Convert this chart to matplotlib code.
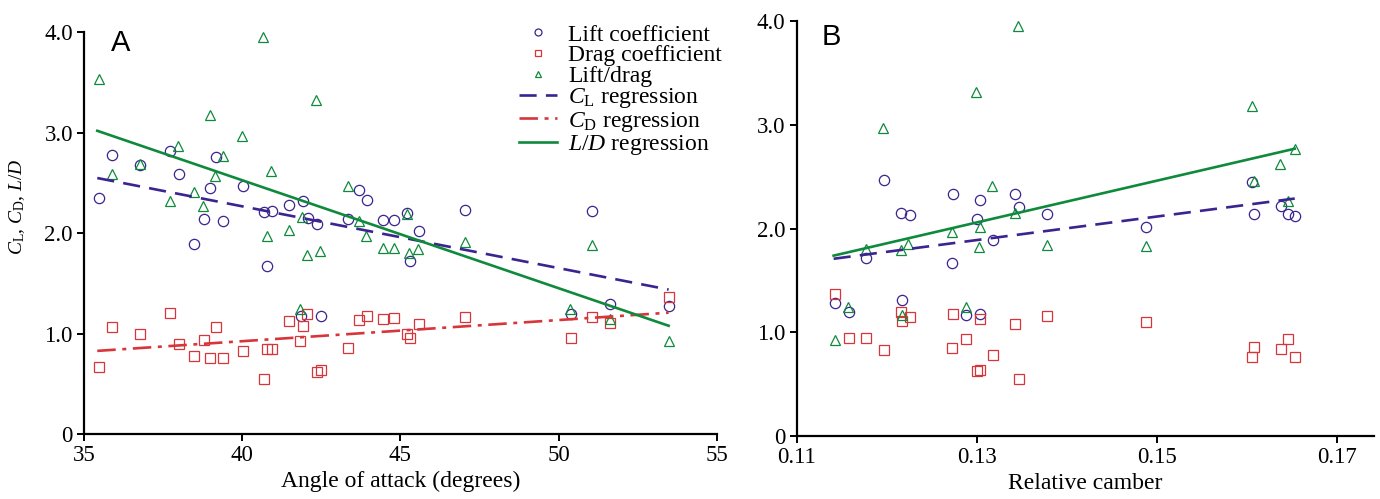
import matplotlib
matplotlib.use("Agg")
import matplotlib.pyplot as plt
from matplotlib.lines import Line2D
import numpy as np

plt.rcParams['font.family'] = ['Liberation Serif', 'DejaVu Serif']
plt.rcParams['mathtext.fontset'] = 'custom'
plt.rcParams['mathtext.rm'] = 'Liberation Serif'
plt.rcParams['mathtext.it'] = 'Liberation Serif:italic'

# ---------------- Panel A data (angle of attack) ----------------
angle_cl = [35.89, 35.48, 36.78, 37.73, 37.99, 39.16, 38.98, 40.03, 38.79, 39.40, 38.49,
            40.69, 40.95, 41.49, 40.80, 41.85, 41.91, 42.08, 42.35, 43.35, 43.69, 43.94,
            44.46, 44.79, 45.20, 45.58, 45.29, 47.05, 42.48, 51.06, 51.64, 50.38, 53.48]
lift_a = [2.78, 2.35, 2.68, 2.82, 2.59, 2.76, 2.45, 2.47, 2.14, 2.12, 1.89,
          2.21, 2.22, 2.28, 1.67, 1.18, 2.32, 2.15, 2.09, 2.14, 2.43, 2.33,
          2.13, 2.13, 2.20, 2.02, 1.72, 2.23, 1.18, 2.22, 1.30, 1.20, 1.28]

angle_cd = [35.48, 35.89, 36.78, 37.73, 37.99, 38.79, 39.16, 38.49, 38.98, 39.40, 40.03,
            40.79, 40.93, 40.69, 41.49, 41.91, 42.06, 41.83, 42.35, 42.48, 43.35, 43.69,
            43.94, 44.46, 44.79, 45.20, 45.29, 45.58, 47.05, 50.38, 51.06, 51.62, 53.48]
drag_a = [0.67, 1.07, 1.00, 1.21, 0.90, 0.94, 1.07, 0.78, 0.76, 0.76, 0.83,
          0.85, 0.85, 0.55, 1.13, 1.08, 1.20, 0.93, 0.62, 0.64, 0.86, 1.14,
          1.18, 1.15, 1.16, 1.00, 0.96, 1.10, 1.17, 0.96, 1.17, 1.11, 1.37]

angle_ld = [35.47, 40.67, 38.98, 40.01, 37.98, 36.78, 39.38, 35.88, 39.14, 40.91, 38.48,
            37.71, 38.77, 40.78, 41.48, 41.90, 41.82, 42.34, 43.33, 42.04, 42.47, 43.68,
            43.92, 44.44, 44.79, 45.20, 45.26, 45.56, 47.04, 51.06, 50.36, 51.62, 53.48]
ld_a = [3.54, 3.95, 3.18, 2.97, 2.87, 2.69, 2.77, 2.59, 2.57, 2.62, 2.41,
        2.32, 2.27, 1.97, 2.03, 2.16, 1.25, 3.33, 2.47, 1.78, 1.82, 2.12,
        1.97, 1.85, 1.85, 2.19, 1.80, 1.84, 1.91, 1.88, 1.25, 1.15, 0.93]

# regression line end points
reg_angle = [35.42, 53.48]
cl_reg_a = [2.55, 1.44]
cd_reg_a = [0.83, 1.21]
ld_reg_a = [3.02, 1.08]

# ---------------- Panel B data (relative camber) ----------------
camber_cl = [0.1197, 0.1273, 0.1304, 0.1216, 0.1226, 0.1300, 0.1318, 0.1177, 0.1272, 0.1142,
             0.1158, 0.1217, 0.1288, 0.1303, 0.1342, 0.1347, 0.1378, 0.1488, 0.1606, 0.1608,
             0.1638, 0.1646, 0.1653]
lift_b = [2.47, 2.33, 2.28, 2.15, 2.13, 2.09, 1.89, 1.72, 1.67, 1.28,
          1.20, 1.31, 1.17, 1.18, 2.33, 2.21, 2.14, 2.02, 2.45, 2.14,
          2.22, 2.14, 2.12]

camber_cd = [0.1143, 0.1158, 0.1177, 0.1197, 0.1216, 0.1217, 0.1226, 0.1272, 0.1273, 0.1288,
             0.1300, 0.1303, 0.1304, 0.1318, 0.1342, 0.1347, 0.1378, 0.1488, 0.1606, 0.1608,
             0.1638, 0.1646, 0.1653]
drag_b = [1.37, 0.95, 0.95, 0.83, 1.20, 1.11, 1.15, 0.85, 1.18, 0.94,
          0.63, 0.64, 1.13, 0.78, 1.08, 0.55, 1.16, 1.10, 0.76, 0.86,
          0.84, 0.94, 0.76]

camber_ld = [0.1299, 0.1196, 0.1317, 0.1177, 0.1216, 0.1224, 0.1272, 0.1303, 0.1302, 0.1157,
             0.1217, 0.1142, 0.1288, 0.1346, 0.1342, 0.1378, 0.1488, 0.1605, 0.1653, 0.1637,
             0.1608, 0.1646]
ld_b = [3.32, 2.97, 2.41, 1.80, 1.79, 1.85, 1.97, 2.02, 1.82, 1.25,
        1.17, 0.93, 1.25, 3.95, 2.15, 1.84, 1.83, 3.18, 2.77, 2.62,
        2.46, 2.27]

reg_camber = [0.1141, 0.1653]
cl_reg_b = [1.71, 2.29]
ld_reg_b = [1.74, 2.77]

yticks = [0, 1.0, 2.0, 3.0, 4.0]
ytick_labels = ['0', '1.0', '2.0', '3.0', '4.0']
xticks_a = [35, 40, 45, 50, 55]
xticks_b = [0.11, 0.13, 0.15, 0.17]
xtick_labels_b = ['0.11', '0.13', '0.15', '0.17']

PURPLE = '#3b2390'
RED = '#d8353a'
GREEN = '#0f8a3c'

CL_DASH = (0, (6.5, 3.5))
CD_DASH = (0, (7, 2.5, 1.5, 2.5))

fig = plt.figure(figsize=(13.8, 4.99), dpi=100)
axA = fig.add_axes([84 / 1380, 1 - 434.3 / 499, (716.7 - 84) / 1380, (434.3 - 32.3) / 499])
axB = fig.add_axes([796.7 / 1380, 1 - 436.3 / 499, (1374 - 796.7) / 1380, (436.3 - 21) / 499])

mk = dict(linestyle='none', markerfacecolor='none', markeredgewidth=0.9)


def style(ax):
    for s in ('top', 'right'):
        ax.spines[s].set_visible(False)
    for s in ('left', 'bottom'):
        ax.spines[s].set_linewidth(1.6)
    ax.tick_params(direction='out', length=5, width=1.4, labelsize=16.5, pad=3)
    ax.set_ylim(0, 4.0)
    ax.set_yticks(yticks)
    ax.set_yticklabels(ytick_labels)


# Panel A
axA.plot(angle_cl, lift_a, marker='o', markersize=7.4, markeredgecolor=PURPLE, **mk)
axA.plot(angle_cd, drag_a, marker='s', markersize=7.4, markeredgecolor=RED, **mk)
axA.plot(angle_ld, ld_a, marker='^', markersize=7.7, markeredgecolor=GREEN, **mk)
axA.plot(reg_angle, cl_reg_a, color=PURPLE, lw=1.9, linestyle=CL_DASH)
axA.plot(reg_angle, cd_reg_a, color=RED, lw=1.9, linestyle=CD_DASH)
axA.plot(reg_angle, ld_reg_a, color=GREEN, lw=1.9, linestyle='-')
style(axA)
axA.set_xlim(35, 55)
axA.set_xticks(xticks_a)
axA.set_xlabel('Angle of attack (degrees)', fontsize=17, labelpad=3)
axA.set_ylabel(r'$C_\mathrm{L}$, $C_\mathrm{D}$, $L/D$', fontsize=14)
axA.yaxis.set_label_coords(-0.09, 0.565)
axA.text(0.043, 1.008, 'A', transform=axA.transAxes, fontsize=21,
         family='Liberation Sans', va='top', ha='left')

handles = [
    Line2D([], [], marker='o', markersize=5, markeredgecolor=PURPLE, **mk),
    Line2D([], [], marker='s', markersize=5, markeredgecolor=RED, **mk),
    Line2D([], [], marker='^', markersize=5, markeredgecolor=GREEN, **mk),
    Line2D([], [], color=PURPLE, lw=1.9, linestyle=CL_DASH),
    Line2D([], [], color=RED, lw=1.9, linestyle=CD_DASH),
    Line2D([], [], color=GREEN, lw=1.9, linestyle='-'),
]
labels = ['Lift coefficient', 'Drag coefficient', 'Lift/drag',
          r'$C_\mathrm{L}$ regression', r'$C_\mathrm{D}$ regression', r'$L/D$ regression']
fig.legend(handles, labels, loc='upper left', bbox_to_anchor=(519 / 1380, 1 - 24 / 499),
           frameon=False, fontsize=17, labelspacing=-0.03, handlelength=1.6,
           handletextpad=0.47, borderpad=0, borderaxespad=0)

# Panel B
axB.plot(camber_cl, lift_b, marker='o', markersize=7.4, markeredgecolor=PURPLE, **mk)
axB.plot(camber_cd, drag_b, marker='s', markersize=7.4, markeredgecolor=RED, **mk)
axB.plot(camber_ld, ld_b, marker='^', markersize=7.7, markeredgecolor=GREEN, **mk)
axB.plot(reg_camber, cl_reg_b, color=PURPLE, lw=1.9, linestyle=CL_DASH)
axB.plot(reg_camber, ld_reg_b, color=GREEN, lw=1.9, linestyle='-')
style(axB)
axB.set_xlim(0.11, 0.1741)
axB.set_xticks(xticks_b)
axB.set_xticklabels(xtick_labels_b)
axB.set_xlabel('Relative camber', fontsize=17, labelpad=3)
axB.text(0.044, 0.995, 'B', transform=axB.transAxes, fontsize=21,
         family='Liberation Sans', va='top', ha='left')

fig.savefig('out.png', dpi=100)
